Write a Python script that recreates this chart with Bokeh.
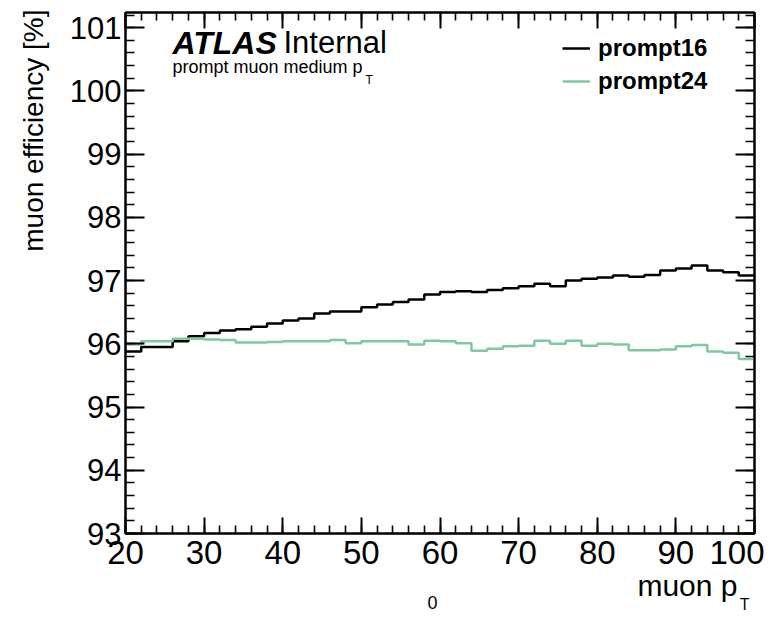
import math
from bokeh.plotting import figure
from bokeh.models import (LinearAxis, SingleIntervalTicker, Label, Legend, LegendItem,
                          Range1d, Title, CustomJSTickFormatter)
from bokeh.embed import file_html
from bokeh.resources import INLINE

# ---- data ----
bin_edges = [20, 22, 24, 26, 28, 30, 32, 34, 36, 38,
             40, 42, 44, 46, 48, 50, 52, 54, 56, 58,
             60, 62, 64, 66, 68, 70, 72, 74, 76, 78,
             80, 82, 84, 86, 88, 90, 92, 94, 96, 98, 100]

prompt16 = [95.88, 95.95, 95.95, 96.04, 96.12, 96.17, 96.21, 96.23, 96.27, 96.32,
            96.37, 96.40, 96.48, 96.51, 96.51, 96.58, 96.62, 96.66, 96.70, 96.78,
            96.82, 96.83, 96.82, 96.85, 96.88, 96.91, 96.95, 96.91, 97.00, 97.03,
            97.05, 97.08, 97.06, 97.09, 97.16, 97.19, 97.24, 97.16, 97.13, 97.08]

prompt24 = [95.99, 96.04, 96.04, 96.08, 96.08, 96.07, 96.06, 96.02, 96.02, 96.03,
            96.04, 96.04, 96.04, 96.06, 96.01, 96.04, 96.04, 96.04, 95.99, 96.05,
            96.04, 96.01, 95.89, 95.92, 95.96, 95.97, 96.05, 96.00, 96.05, 95.97,
            96.00, 95.99, 95.90, 95.90, 95.91, 95.96, 95.98, 95.88, 95.86, 95.76]

series_names = ["prompt16", "prompt24"]
series_colors = ["#000000", "#80c8a2"]

x_ticks_interval = 10
y_ticks_interval = 1

FONT = "Liberation Sans"

# ---- figure ----
p = figure(width=764, height=611, output_backend="svg", toolbar_location=None,
           x_range=Range1d(20, 100), y_range=Range1d(93, 101.24),
           min_border_left=125, min_border_right=10, min_border_top=12, min_border_bottom=78)
p.grid.visible = False
p.outline_line_color = "black"
p.outline_line_width = 2
p.background_fill_color = "white"
p.border_fill_color = "white"

def style_axis(ax, ticker, tick_len, labels=True, standoff=5, size="31px"):
    ax.ticker = ticker
    ax.axis_line_width = 2
    ax.major_tick_line_width = 2
    ax.minor_tick_line_width = 1.6
    ax.major_tick_in = tick_len
    ax.major_tick_out = 0
    ax.minor_tick_in = tick_len // 2
    ax.minor_tick_out = 0
    ax.major_label_standoff = standoff
    if labels:
        ax.major_label_text_font = FONT
        ax.major_label_text_font_size = size
        ax.major_label_text_color = "black"
    else:
        ax.formatter = CustomJSTickFormatter(code="return ''")
        ax.major_label_text_font_size = "1px"
        ax.major_label_standoff = 0

xt = lambda: SingleIntervalTicker(interval=x_ticks_interval, num_minor_ticks=5)
yt = lambda: SingleIntervalTicker(interval=y_ticks_interval, num_minor_ticks=5)

style_axis(p.xaxis[0], xt(), 16, True, 7, "33px")
style_axis(p.yaxis[0], yt(), 19, True, 4, "31px")
top = LinearAxis()
style_axis(top, xt(), 16, False)
p.add_layout(top, "above")
right = LinearAxis()
style_axis(right, yt(), 19, False)
p.add_layout(right, "right")

# ---- histograms as steps ----
renderers = []
for vals, col in zip([prompt16, prompt24], series_colors):
    ys = list(vals) + [vals[-1]]
    r = p.step(bin_edges, ys, mode="after", line_color=col, line_width=2.5)
    renderers.append(r)

legend = Legend(items=[LegendItem(label=n, renderers=[r]) for n, r in zip(series_names, renderers)],
                location=(437, 438), glyph_width=28, label_standoff=8,
                label_text_font=FONT, label_text_font_size="24px", label_text_font_style="bold",
                label_text_color="black",
                border_line_color=None, background_fill_alpha=0, padding=0, margin=0, spacing=5)
p.add_layout(legend)

# ---- texts inside the frame (data units mapped from reference pixels) ----
def X(px):
    return 20 + (px - 125) / 7.8625

def Y(py):
    return 93 + (533 - py) / 63.23

def lab(text, px, py, size, style="normal", align="left"):
    p.add_layout(Label(x=X(px), y=Y(py), text=text, text_font=FONT, text_font_size=size,
                       text_font_style=style, text_align=align, text_baseline="alphabetic",
                       text_color="black"))

lab("ATLAS", 172, 42, "32px", "bold italic")
lab("Internal", 283, 42, "31px")
lab("prompt muon medium p", 172, 66, "18px")
lab("T", 365, 79, "12px")

# ---- texts outside the frame: titles in the side panels ----
def side_title(text, side, size, align, offset, standoff, valign="top"):
    p.add_layout(Title(text=text, align=align, offset=offset, standoff=standoff,
                       vertical_align=valign, text_font=FONT, text_font_size=size,
                       text_font_style="normal", text_color="black"), side)

side_title("muon efficiency [%]", "left", "28px", "right", -3, 33, "middle")
side_title("muon p", "below", "30px", "right", 17, 5)
side_title("0", "below", "18px", "left", 302, -22)
side_title("T", "below", "16px", "right", 5, -22)

open("out.html", "w").write(file_html(p, INLINE))
